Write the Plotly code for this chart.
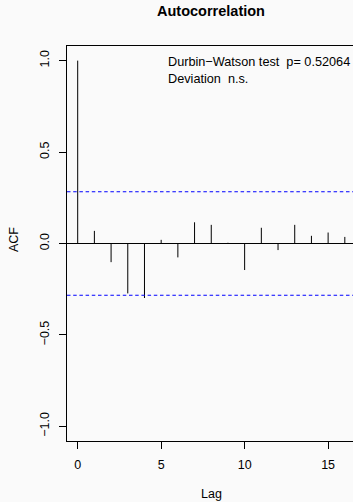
import plotly.graph_objects as go

lags = list(range(0, 17))
acf_values = [1.0, 0.069, -0.102, -0.273, -0.298, 0.020, -0.076, 0.116, 0.102,
              0.004, -0.145, 0.086, -0.036, 0.102, 0.042, 0.060, 0.036]
ci_bound = 0.2828
x_ticks = [0, 5, 10, 15]
y_ticks = [-1.0, -0.5, 0.0, 0.5, 1.0]
y_tick_labels = ["−1.0", "−0.5", "0.0", "0.5", "1.0"]
title_text = "Autocorrelation"
dw_text = "Durbin−Watson test\u00a0\u00a0p= 0.52064"
dev_text = "Deviation\u00a0\u00a0n.s."

FONT = "Liberation Sans, Arial, Helvetica, sans-serif"
W, H = 353, 502
ML, MR, MT, MB = 67, 0, 46, 61
PW = W - ML - MR
PH = H - MT - MB

def px_x(px):
    return (px - ML) / PW

def px_y(py):
    return (H - MB - py) / PH

xs, ys = [], []
for l, v in zip(lags, acf_values):
    xs += [l, l, None]
    ys += [0, v, None]

fig = go.Figure()
fig.add_trace(go.Scatter(x=xs, y=ys, mode="lines",
                         line=dict(color="black", width=1),
                         hoverinfo="skip", showlegend=False))

fig.add_hline(y=0, line=dict(color="black", width=1))
for b in (ci_bound, -ci_bound):
    fig.add_hline(y=b, line=dict(color="#0000FF", width=1.1, dash="3.5px,2.7px"))

fig.update_layout(
    width=W, height=H,
    margin=dict(l=ML, r=MR, t=MT, b=MB),
    paper_bgcolor="#FAFAFA", plot_bgcolor="#FAFAFA",
    font=dict(family=FONT, size=12.5, color="black"),
    showlegend=False,
)
fig.update_xaxes(
    range=[-0.64, 16.49], tickmode="array", tickvals=x_ticks,
    ticktext=[str(t) for t in x_ticks],
    ticks="outside", ticklen=7, tickwidth=1, tickcolor="black",
    showline=True, linecolor="black", linewidth=1, mirror=True,
    showgrid=False, zeroline=False, ticklabelstandoff=5,
    tickfont=dict(size=12.5),
)
fig.update_yaxes(
    range=[-1.08, 1.08], tickmode="array", tickvals=y_ticks,
    ticktext=y_tick_labels, tickangle=-90,
    ticks="outside", ticklen=7, tickwidth=1, tickcolor="black",
    showline=True, linecolor="black", linewidth=1, mirror=False,
    showgrid=False, zeroline=False, ticklabelstandoff=5,
    tickfont=dict(size=12.5),
)

annots = [
    dict(text="<b>" + title_text + "</b>", x=px_x(211), y=px_y(11),
         xanchor="center", yanchor="middle", font=dict(size=14.5)),
    dict(text=dw_text, x=px_x(166), y=px_y(62), xanchor="left", yanchor="middle",
         font=dict(size=12.7)),
    dict(text=dev_text, x=px_x(166), y=px_y(78.5), xanchor="left", yanchor="middle",
         font=dict(size=12.7)),
    dict(text="Lag", x=px_x(211), y=px_y(494), xanchor="center", yanchor="middle",
         font=dict(size=12.5)),
    dict(text="ACF", x=px_x(14), y=px_y(240), xanchor="center", yanchor="middle",
         textangle=-90, font=dict(size=12.5)),
]
for a in annots:
    a.update(xref="paper", yref="paper", showarrow=False)
    fig.add_annotation(**a)

fig.write_html("out.html", config={"displayModeBar": False},
               post_script="document.body.style.margin='0';document.body.style.background='#FAFAFA';")
